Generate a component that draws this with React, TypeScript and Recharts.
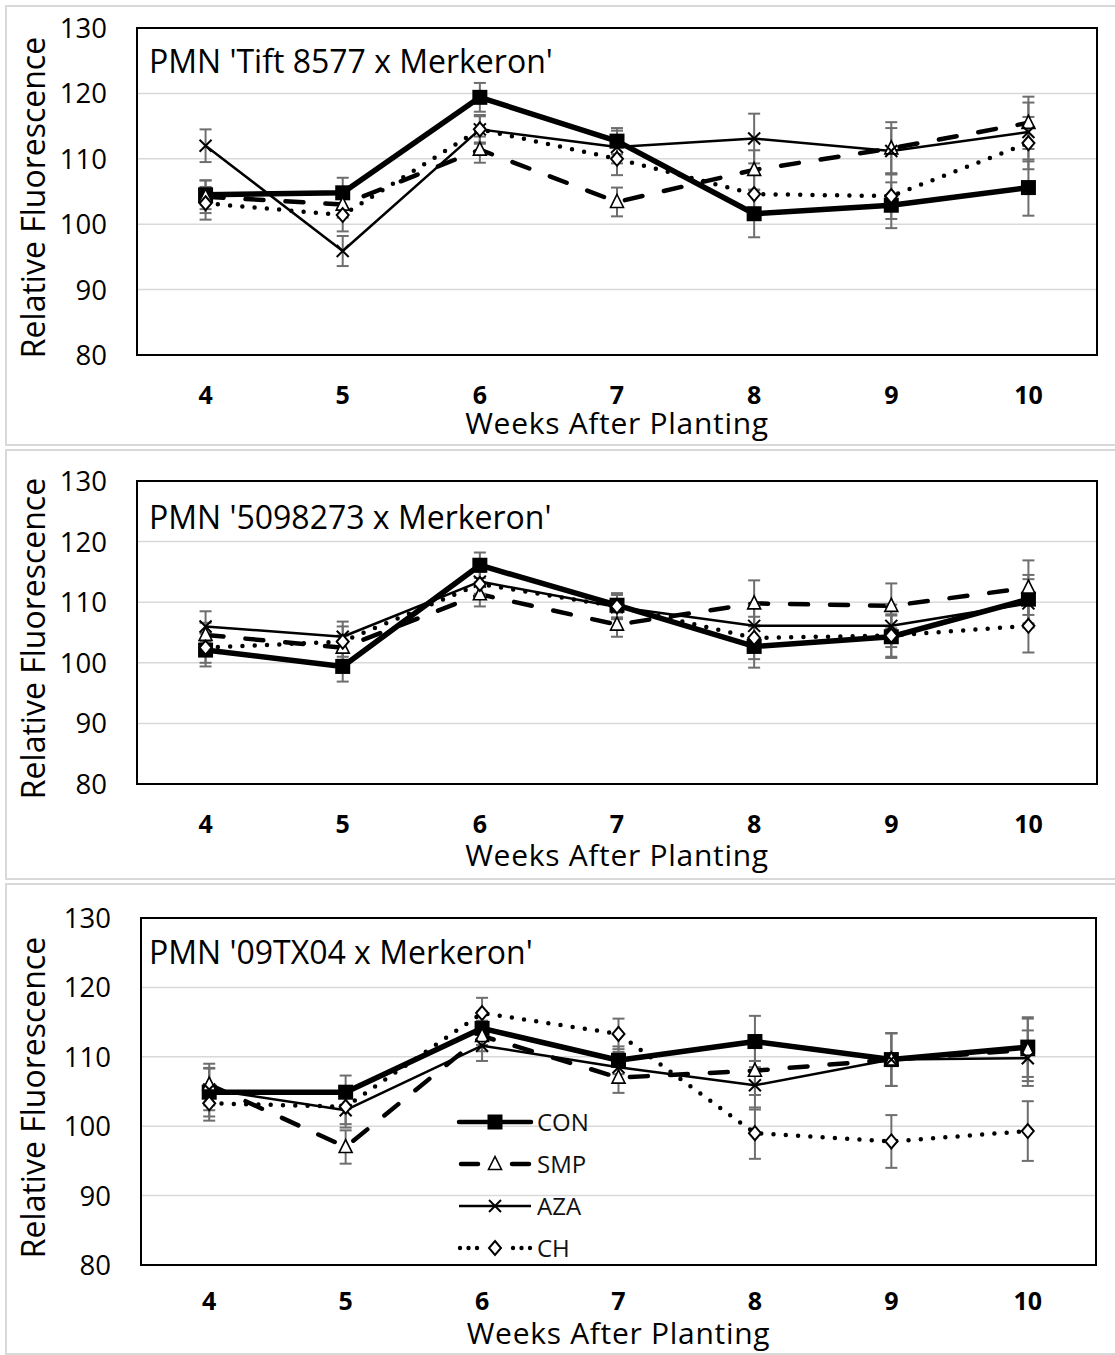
import React from 'react';
import { LineChart, Line, XAxis, YAxis, CartesianGrid, ErrorBar, ReferenceArea, ReferenceLine, Legend } from 'recharts';

const weeks = ['4', '5', '6', '7', '8', '9', '10'];
const yTicks = [80, 90, 100, 110, 120, 130];
const seriesNames = ['CON', 'SMP', 'AZA', 'CH'];

// Panel 1 – PMN 'Tift 8577 x Merkeron'
const tiftTitle = "PMN 'Tift 8577 x Merkeron'";
const tiftCON = [104.5, 104.8, 119.4, 112.7, 101.6, 102.9, 105.6];
const tiftSMP = [104.2, 103.0, 111.4, 103.4, 108.3, 111.6, 115.5];
const tiftAZA = [112.0, 95.9, 114.5, 111.8, 113.1, 111.2, 114.1];
const tiftCH = [103.2, 101.4, 114.5, 110.0, 104.6, 104.3, 112.4];
const tiftCONErr = [2.2, 2.3, 2.2, 2.0, 3.6, 3.5, 4.3];
const tiftSMPErr = [2.5, 2.0, 2.0, 2.2, 3.0, 4.0, 4.0];
const tiftAZAErr = [2.5, 2.3, 2.0, 2.5, 3.8, 3.5, 4.5];
const tiftCHErr = [2.5, 2.5, 2.2, 2.5, 3.0, 3.5, 4.0];

// Panel 2 – PMN '5098273 x Merkeron'
const p509Title = "PMN '5098273 x Merkeron'";
const p509CON = [102.1, 99.4, 116.1, 109.5, 102.7, 104.3, 110.5];
const p509SMP = [104.6, 102.5, 111.3, 106.3, 109.8, 109.4, 112.4];
const p509AZA = [106.0, 104.3, 113.4, 109.2, 106.1, 106.1, 109.8];
const p509CH = [102.5, 103.5, 113.0, 109.3, 104.1, 104.5, 106.1];
const p509CONErr = [2.7, 2.5, 2.1, 2.0, 3.5, 3.5, 4.0];
const p509SMPErr = [2.0, 2.0, 2.0, 2.0, 3.8, 3.7, 4.5];
const p509AZAErr = [2.5, 2.5, 2.0, 2.0, 3.5, 3.5, 4.0];
const p509CHErr = [2.5, 2.5, 2.0, 2.0, 3.5, 3.5, 4.4];

// Panel 3 – PMN '09TX04 x Merkeron'
const tx04Title = "PMN '09TX04 x Merkeron'";
const tx04CON = [104.9, 104.9, 114.1, 109.5, 112.2, 109.6, 111.4];
const tx04SMP = [106.0, 97.0, 113.0, 107.0, 108.0, 109.6, 111.0];
const tx04AZA = [105.3, 102.3, 111.6, 108.5, 105.9, 109.6, 109.8];
const tx04CH = [103.3, 102.8, 116.3, 113.3, 99.0, 97.8, 99.3];
const tx04CONErr = [3.5, 2.4, 2.4, 2.0, 3.7, 3.8, 4.3];
const tx04SMPErr = [3.0, 2.4, 2.2, 2.2, 3.5, 3.8, 4.5];
const tx04AZAErr = [3.0, 2.5, 2.2, 2.2, 3.5, 3.8, 4.0];
const tx04CHErr = [2.5, 2.5, 2.2, 2.2, 3.7, 3.8, 4.3];

const FONT = '"Open Sans", "Noto Sans", sans-serif';

const buildRows = (vals: number[][], errs: number[][]) =>
  weeks.map((w, i) => {
    const row: any = { week: w };
    seriesNames.forEach((s, k) => {
      row[s] = vals[k][i];
      row[s + '_e'] = errs[k][i];
    });
    return row;
  });

const SERIES_STYLE: Record<string, any> = {
  CON: { strokeWidth: 5.5, dash: undefined, cap: 'butt' },
  SMP: { strokeWidth: 4.5, dash: '18 22', cap: 'round' },
  AZA: { strokeWidth: 2.5, dash: undefined, cap: 'butt' },
  CH: { strokeWidth: 4.5, dash: '0 12.3', cap: 'round' },
};

const Marker = ({ kind, cx, cy }: any) => {
  if (cx == null || cy == null) return <g />;
  switch (kind) {
    case 'CON':
      return <rect x={cx - 7.5} y={cy - 7.5} width={15} height={15} fill="#000" />;
    case 'SMP':
      return (
        <polygon
          points={`${cx},${cy - 7.5} ${cx - 6.5},${cy + 5.5} ${cx + 6.5},${cy + 5.5}`}
          fill="#fff"
          stroke="#000"
          strokeWidth={1.6}
        />
      );
    case 'AZA':
      return (
        <g stroke="#000" strokeWidth={2}>
          <line x1={cx - 6} y1={cy - 6} x2={cx + 6} y2={cy + 6} />
          <line x1={cx - 6} y1={cy + 6} x2={cx + 6} y2={cy - 6} />
        </g>
      );
    default:
      return (
        <polygon
          points={`${cx},${cy - 7} ${cx + 6},${cy} ${cx},${cy + 7} ${cx - 6},${cy}`}
          fill="#fff"
          stroke="#000"
          strokeWidth={2}
        />
      );
  }
};

const LegendBox = () => {
  const rows = [15, 57, 99, 141];
  return (
    <svg width={180} height={160} style={{ overflow: 'visible' }}>
      {/* CON */}
      <line x1={0} y1={rows[0]} x2={72} y2={rows[0]} stroke="#000" strokeWidth={4.5} strokeLinecap="round" />
      <Marker kind="CON" cx={36} cy={rows[0]} />
      {/* SMP */}
      <line x1={2} y1={rows[1]} x2={19} y2={rows[1]} stroke="#000" strokeWidth={4.5} strokeLinecap="round" />
      <line x1={53} y1={rows[1]} x2={70} y2={rows[1]} stroke="#000" strokeWidth={4.5} strokeLinecap="round" />
      <Marker kind="SMP" cx={36} cy={rows[1]} />
      {/* AZA */}
      <line x1={0} y1={rows[2]} x2={72} y2={rows[2]} stroke="#000" strokeWidth={2.5} />
      <Marker kind="AZA" cx={36} cy={rows[2]} />
      {/* CH */}
      {[1, 9.5, 18, 54, 62.5, 71].map((x) => (
        <circle key={x} cx={x} cy={rows[3]} r={2.2} fill="#000" />
      ))}
      <Marker kind="CH" cx={36} cy={rows[3]} />
      {seriesNames.map((s, i) => (
        <text key={s} x={78} y={rows[i] + 8.5} fontSize={24} fontFamily={FONT} fill="#111">
          {s}
        </text>
      ))}
    </svg>
  );
};

type PanelCfg = {
  title: string;
  rows: any[];
  frameTop: number;
  frameH: number;
  plotTop: number;
  plotBottom: number;
  plotLeft: number;
  plotRight: number;
  xTickDy: number;
  xTitleDy: number;
  titleDy: number;
  legend?: boolean;
};

const W = 1115;
const YAXIS_W = 100;

const Panel = ({ cfg }: { cfg: PanelCfg }) => {
  const { frameTop, frameH, plotTop, plotBottom, plotLeft, plotRight } = cfg;
  const margin = {
    top: plotTop - frameTop,
    right: W - plotRight,
    bottom: 0,
    left: plotLeft - YAXIS_W,
  };
  const xAxisH = frameTop + frameH - plotBottom;
  return (
    <>
      <div
        style={{
          position: 'absolute',
          left: 5,
          top: frameTop,
          width: W + 10,
          height: frameH,
          border: '2px solid #d9d9d9',
          boxSizing: 'border-box',
        }}
      />
      <div style={{ position: 'absolute', left: 0, top: frameTop }}>
        <LineChart width={W} height={frameH} data={cfg.rows} margin={margin}>
          <CartesianGrid vertical={false} stroke="#d9d9d9" strokeWidth={1.5} />
          <ReferenceArea y1={80} y2={130} fill="none" stroke="#000" strokeWidth={2} ifOverflow="visible" />
          <XAxis
            dataKey="week"
            scale="band"
            axisLine={false}
            tickLine={false}
            tickSize={0}
            tickMargin={0}
            height={xAxisH}
            interval={0}
            tick={(p: any) => (
              <text
                x={p.x}
                y={p.y + cfg.xTickDy}
                textAnchor="middle"
                fontSize={25}
                fontWeight="bold"
                fontFamily={FONT}
                fill="#000"
              >
                {p.payload.value}
              </text>
            )}
            label={{
              content: (p: any) => (
                <text
                  x={(plotLeft + plotRight) / 2}
                  y={p.viewBox.y + cfg.xTitleDy}
                  textAnchor="middle"
                  fontSize={30}
                  letterSpacing={0.7}
                  fontFamily={FONT}
                  fill="#000"
                >
                  Weeks After Planting
                </text>
              ),
            }}
          />
          <YAxis
            domain={[80, 130]}
            ticks={yTicks}
            allowDataOverflow
            width={YAXIS_W}
            axisLine={false}
            tickLine={false}
            tickSize={0}
            tickMargin={0}
            interval={0}
            tick={(p: any) => (
              <text
                x={p.x - 30}
                y={p.y}
                dy="0.36em"
                textAnchor="end"
                fontSize={27.5}
                fontFamily={FONT}
                fill="#000"
              >
                {p.payload.value}
              </text>
            )}
            label={{
              content: () => {
                const cy = (plotTop + plotBottom) / 2 - frameTop + 6;
                return (
                  <text
                    x={32}
                    y={cy}
                    transform={`rotate(-90, 32, ${cy})`}
                    textAnchor="middle"
                    dominantBaseline="central"
                    fontSize={32}
                    fontFamily={FONT}
                    fill="#000"
                  >
                    Relative Fluorescence
                  </text>
                );
              },
            }}
          />
          <ReferenceLine
            y={130}
            stroke="none"
            label={{
              content: (p: any) => (
                <text x={149} y={p.viewBox.y + cfg.titleDy} fontSize={32} fontFamily={FONT} fill="#000">
                  {cfg.title}
                </text>
              ),
            }}
          />
          {seriesNames.map((s) => {
            const st = SERIES_STYLE[s];
            return (
              <Line
                key={s}
                type="linear"
                dataKey={s}
                stroke="#000"
                strokeWidth={st.strokeWidth}
                strokeDasharray={st.dash}
                strokeLinecap={st.cap}
                strokeLinejoin="round"
                isAnimationActive={false}
                activeDot={false}
                dot={(p: any) => <Marker key={`${s}-${p.index}`} kind={s} cx={p.cx} cy={p.cy} />}
              >
                <ErrorBar dataKey={s + '_e'} width={6} strokeWidth={2} stroke="#6e6e6e" direction="y" />
              </Line>
            );
          })}
          {cfg.legend && (
            <Legend
              layout="vertical"
              align="center"
              verticalAlign="middle"
              wrapperStyle={{ left: 459, top: 1122 - 15 - frameTop, width: 180, height: 160 }}
              content={() => <LegendBox />}
            />
          )}
        </LineChart>
      </div>
    </>
  );
};

const panels: PanelCfg[] = [
  {
    title: tiftTitle,
    rows: buildRows([tiftCON, tiftSMP, tiftAZA, tiftCH], [tiftCONErr, tiftSMPErr, tiftAZAErr, tiftCHErr]),
    frameTop: 5,
    frameH: 441,
    plotTop: 28,
    plotBottom: 355,
    plotLeft: 137,
    plotRight: 1097,
    xTickDy: 49,
    xTitleDy: 79,
    titleDy: 45,
  },
  {
    title: p509Title,
    rows: buildRows([p509CON, p509SMP, p509AZA, p509CH], [p509CONErr, p509SMPErr, p509AZAErr, p509CHErr]),
    frameTop: 449,
    frameH: 431,
    plotTop: 481,
    plotBottom: 784,
    plotLeft: 137,
    plotRight: 1097,
    xTickDy: 49,
    xTitleDy: 82,
    titleDy: 48,
  },
  {
    title: tx04Title,
    rows: buildRows([tx04CON, tx04SMP, tx04AZA, tx04CH], [tx04CONErr, tx04SMPErr, tx04AZAErr, tx04CHErr]),
    frameTop: 883,
    frameH: 472,
    plotTop: 918,
    plotBottom: 1265,
    plotLeft: 141,
    plotRight: 1096,
    xTickDy: 45,
    xTitleDy: 79,
    titleDy: 46,
    legend: true,
  },
];

export default function App() {
  return (
    <div
      style={{
        position: 'absolute',
        left: 0,
        top: 0,
        width: W,
        height: 1355,
        overflow: 'hidden',
        background: '#fff',
      }}
    >
      {panels.map((cfg, i) => (
        <Panel key={i} cfg={cfg} />
      ))}
    </div>
  );
}
